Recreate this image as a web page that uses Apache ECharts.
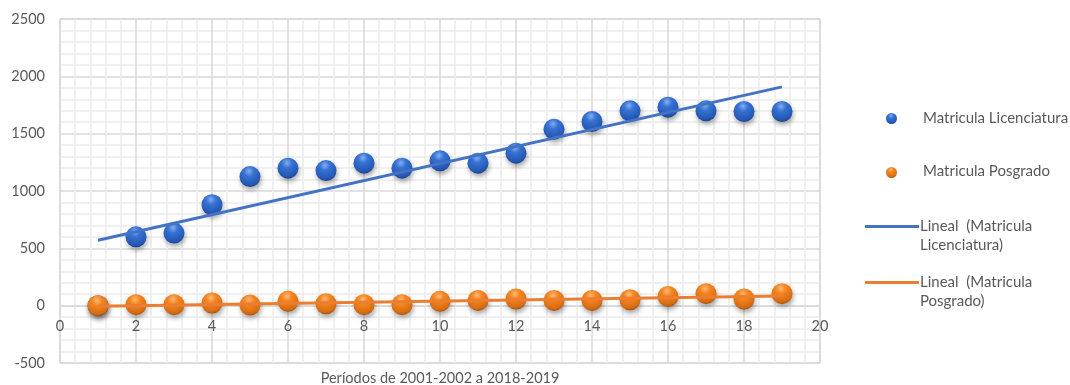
<!DOCTYPE html>
<html>
<head>
<meta charset="utf-8">
<script src="https://cdn.jsdelivr.net/npm/echarts@6/dist/echarts.min.js"></script>
<style>
  html, body { margin: 0; padding: 0; background: #ffffff; }
  #chart { width: 1070px; height: 385px; }
</style>
</head>
<body>
<div id="chart"></div>
<script>
// Enrolment per academic period (2001-2002 … 2018-2019)
const periods = [1, 2, 3, 4, 5, 6, 7, 8, 9, 10, 11, 12, 13, 14, 15, 16, 17, 18, 19];
const licenciatura = [0, 600, 633, 880, 1126, 1199, 1178, 1243, 1199, 1263, 1243, 1330, 1539, 1606, 1699, 1731, 1699, 1693, 1693];
const posgrado = [0, 9, 9, 23, 5, 38, 17, 9, 9, 38, 46, 58, 46, 46, 52, 81, 105, 58, 105];

const seriesNames = ['Matricula Licenciatura', 'Matricula Posgrado'];
const trendNames = ['Lineal  (Matricula\nLicenciatura)', 'Lineal  (Matricula\nPosgrado)'];
const xTitle = 'Períodos de 2001-2002 a 2018-2019';

// Least-squares linear trend, returned as its two end points
function linearTrend(xs, ys) {
  const n = xs.length;
  const mx = xs.reduce((a, b) => a + b, 0) / n;
  const my = ys.reduce((a, b) => a + b, 0) / n;
  let sxy = 0, sxx = 0;
  for (let i = 0; i < n; i++) {
    sxy += (xs[i] - mx) * (ys[i] - my);
    sxx += (xs[i] - mx) * (xs[i] - mx);
  }
  const k = sxy / sxx, b = my - k * mx;
  const x0 = Math.min(...xs), x1 = Math.max(...xs);
  return [[x0, k * x0 + b], [x1, k * x1 + b]];
}

const pairs = (xs, ys) => xs.map((x, i) => [x, ys[i]]);

const BLUE_LINE = '#4472c4';
const ORANGE_LINE = '#ed7d31';

// Glossy sphere fill: small highlight near the top, darker rim below
function sphere(light, mid, deep, dark) {
  return {
    type: 'radial', x: 0.45, y: 0.25, r: 0.8,
    colorStops: [
      { offset: 0, color: light },
      { offset: 0.3, color: mid },
      { offset: 0.8, color: deep },
      { offset: 1, color: dark }
    ]
  };
}
const blueBall = sphere('#86aef0', '#3673d4', '#2457b2', '#173b80');
const orangeBall = sphere('#ffbb7a', '#f5851f', '#d66c12', '#96470a');

const TEXT = '#595959';
const FONT = 'Lato, "Open Sans", sans-serif';

const chart = echarts.init(document.getElementById('chart'), null, { renderer: 'canvas' });

const ballStyle = (fill) => ({
  color: fill,
  opacity: 1,
  shadowBlur: 5,
  shadowOffsetX: 1,
  shadowOffsetY: 3,
  shadowColor: 'rgba(0,0,0,0.35)'
});

// The x labels sit just under the zero line, so they are pulled up from the
// bottom edge of the plot by the height of the -500..0 band.
const ZERO_BAND = 57;

chart.setOption({
  backgroundColor: '#ffffff',
  animation: false,
  textStyle: { fontFamily: FONT },
  grid: {
    left: 60, right: 250, top: 19, height: 344,
    containLabel: false, outerBoundsMode: 'none',
    show: true, borderColor: '#d9d9d9', borderWidth: 1.5
  },
  xAxis: {
    type: 'value', min: 0, max: 20, interval: 2,
    axisLine: { show: true, onZero: true, lineStyle: { color: '#d9d9d9', width: 1.5 } },
    axisTick: { show: false },
    minorTick: { show: false, splitNumber: 5 },
    axisLabel: { color: TEXT, fontSize: 14.5, margin: 13 - ZERO_BAND, fontFamily: FONT },
    splitLine: { show: true, lineStyle: { color: '#d9d9d9', width: 1.5 } },
    minorSplitLine: { show: true, lineStyle: { color: '#ececec', width: 1.5 } },
    name: xTitle,
    nameLocation: 'middle',
    nameGap: 8,
    nameMoveOverlap: false,
    nameTextStyle: { color: TEXT, fontSize: 14.5, fontFamily: FONT }
  },
  yAxis: {
    type: 'value', min: -500, max: 2500, interval: 500,
    axisLine: { show: false },
    axisTick: { show: false },
    minorTick: { show: false, splitNumber: 5 },
    axisLabel: { color: TEXT, fontSize: 14.5, margin: 15, fontFamily: FONT, formatter: (v) => String(v) },
    splitLine: { show: true, lineStyle: { color: '#d9d9d9', width: 1.5 } },
    minorSplitLine: { show: true, lineStyle: { color: '#ececec', width: 1.5 } }
  },
  series: [
    {
      name: seriesNames[0], type: 'scatter', symbol: 'circle', symbolSize: 21, z: 2,
      data: pairs(periods, licenciatura), itemStyle: ballStyle(blueBall)
    },
    {
      name: seriesNames[1], type: 'scatter', symbol: 'circle', symbolSize: 21, z: 3,
      data: pairs(periods, posgrado), itemStyle: ballStyle(orangeBall)
    },
    {
      name: trendNames[0], type: 'line', showSymbol: false, z: 4,
      data: linearTrend(periods, licenciatura),
      lineStyle: { color: BLUE_LINE, width: 3 }, itemStyle: { color: BLUE_LINE }
    },
    {
      name: trendNames[1], type: 'line', showSymbol: false, z: 5,
      data: linearTrend(periods, posgrado),
      lineStyle: { color: ORANGE_LINE, width: 3 }, itemStyle: { color: ORANGE_LINE }
    }
  ],
  graphic: [
    // legend: marker entries
    { type: 'circle', left: 886, top: 113, shape: { r: 5.5 }, style: { fill: blueBall } },
    { type: 'text', left: 923, top: 111, style: { text: seriesNames[0], fill: TEXT, font: '15px ' + FONT } },
    { type: 'circle', left: 886, top: 167, shape: { r: 5.5 }, style: { fill: orangeBall } },
    { type: 'text', left: 923, top: 164, style: { text: seriesNames[1], fill: TEXT, font: '15px ' + FONT } },
    // legend: trend line entries
    { type: 'rect', left: 865, top: 225, shape: { width: 54, height: 3 }, style: { fill: BLUE_LINE } },
    { type: 'text', left: 920, top: 217, style: { text: trendNames[0], fill: TEXT, font: '15px ' + FONT, lineHeight: 19 } },
    { type: 'rect', left: 865, top: 281, shape: { width: 54, height: 3 }, style: { fill: ORANGE_LINE } },
    { type: 'text', left: 920, top: 273, style: { text: trendNames[1], fill: TEXT, font: '15px ' + FONT, lineHeight: 19 } }
  ]
});
</script>
</body>
</html>
